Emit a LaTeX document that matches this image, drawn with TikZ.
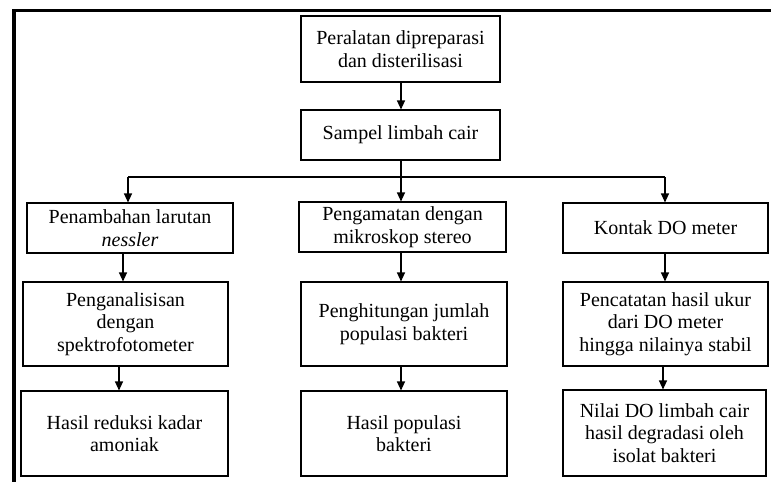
\documentclass[tikz,border=0pt]{standalone}
\usepackage{fontspec}
\setmainfont{Liberation Serif}
\usetikzlibrary{arrows.meta}
\begin{document}
\begin{tikzpicture}[x=1pt,y=-1pt,
  box/.style={draw=black,line width=1.1pt,align=center,inner sep=0pt,
    font=\fontsize{20}{22.5}\selectfont},
  arr/.style={line width=1.1pt,-{Triangle[width=8pt,length=9pt]}},
  ln/.style={line width=1.1pt}]
\useasboundingbox (0,0) rectangle (771,482);
\fill[white] (0,0) rectangle (771,482);
\draw[line width=3.2pt] (771,10.5) -- (14,10.5) -- (14,482);
% top
\node[box,minimum width=199pt,minimum height=66pt] (b1) at (400.5,49) {Peralatan dipreparasi\\dan disterilisasi};
\node[box,minimum width=199pt,minimum height=50pt] (b2) at (400.5,135) {Sampel limbah cair};
% row 1
\node[box,minimum width=206pt,minimum height=50pt] (l1) at (130,228) {Penambahan larutan\\\textit{nessler}};
\node[box,minimum width=207pt,minimum height=50pt] (m1) at (402.5,227) {Pengamatan dengan\\mikroskop stereo};
\node[box,minimum width=205pt,minimum height=50pt] (r1) at (665.5,228) {Kontak DO meter};
% row 2
\node[box,minimum width=205pt,minimum height=84pt] (l2) at (125.5,324) {Penganalisisan\\dengan\\spektrofotometer};
\node[box,minimum width=206pt,minimum height=84pt] (m2) at (404,324) {Penghitungan jumlah\\populasi bakteri};
\node[box,minimum width=205pt,minimum height=84pt] (r2) at (665.5,324) {Pencatatan hasil ukur\\dari DO meter\\hingga nilainya stabil};
% row 3
\node[box,minimum width=207pt,minimum height=85pt] (l3) at (124.5,433.5) {Hasil reduksi kadar\\amoniak};
\node[box,minimum width=206pt,minimum height=85pt] (m3) at (404,433.5) {Hasil populasi\\bakteri};
\node[box,minimum width=203pt,minimum height=86pt] (r3) at (664.5,433) {Nilai DO limbah cair\\hasil degradasi oleh\\isolat bakteri};
% connector x positions
\coordinate (xc) at (401,0);
\coordinate (xl0) at (128,0);
\coordinate (xr0) at (665,0);
\coordinate (xl1) at (123,0);
\coordinate (xl2) at (119,0);
\coordinate (xr2) at (663,0);
\coordinate (hy) at (0,177);
% arrows
\draw[arr] (xc |- b1.south) -- (xc |- b2.north);
\draw[ln] (xc |- b2.south) -- (xc |- hy);
\draw[ln] (xl0 |- hy) -- (xr0 |- hy);
\draw[arr] (xl0 |- hy) -- (xl0 |- l1.north);
\draw[arr] (xc |- hy) -- (xc |- m1.north);
\draw[arr] (xr0 |- hy) -- (xr0 |- r1.north);
\draw[arr] (xl1 |- l1.south) -- (xl1 |- l2.north);
\draw[arr] (xc |- m1.south) -- (xc |- m2.north);
\draw[arr] (xr0 |- r1.south) -- (xr0 |- r2.north);
\draw[arr] (xl2 |- l2.south) -- (xl2 |- l3.north);
\draw[arr] (xc |- m2.south) -- (xc |- m3.north);
\draw[arr] (xr2 |- r2.south) -- (xr2 |- r3.north);
\end{tikzpicture}
\end{document}
